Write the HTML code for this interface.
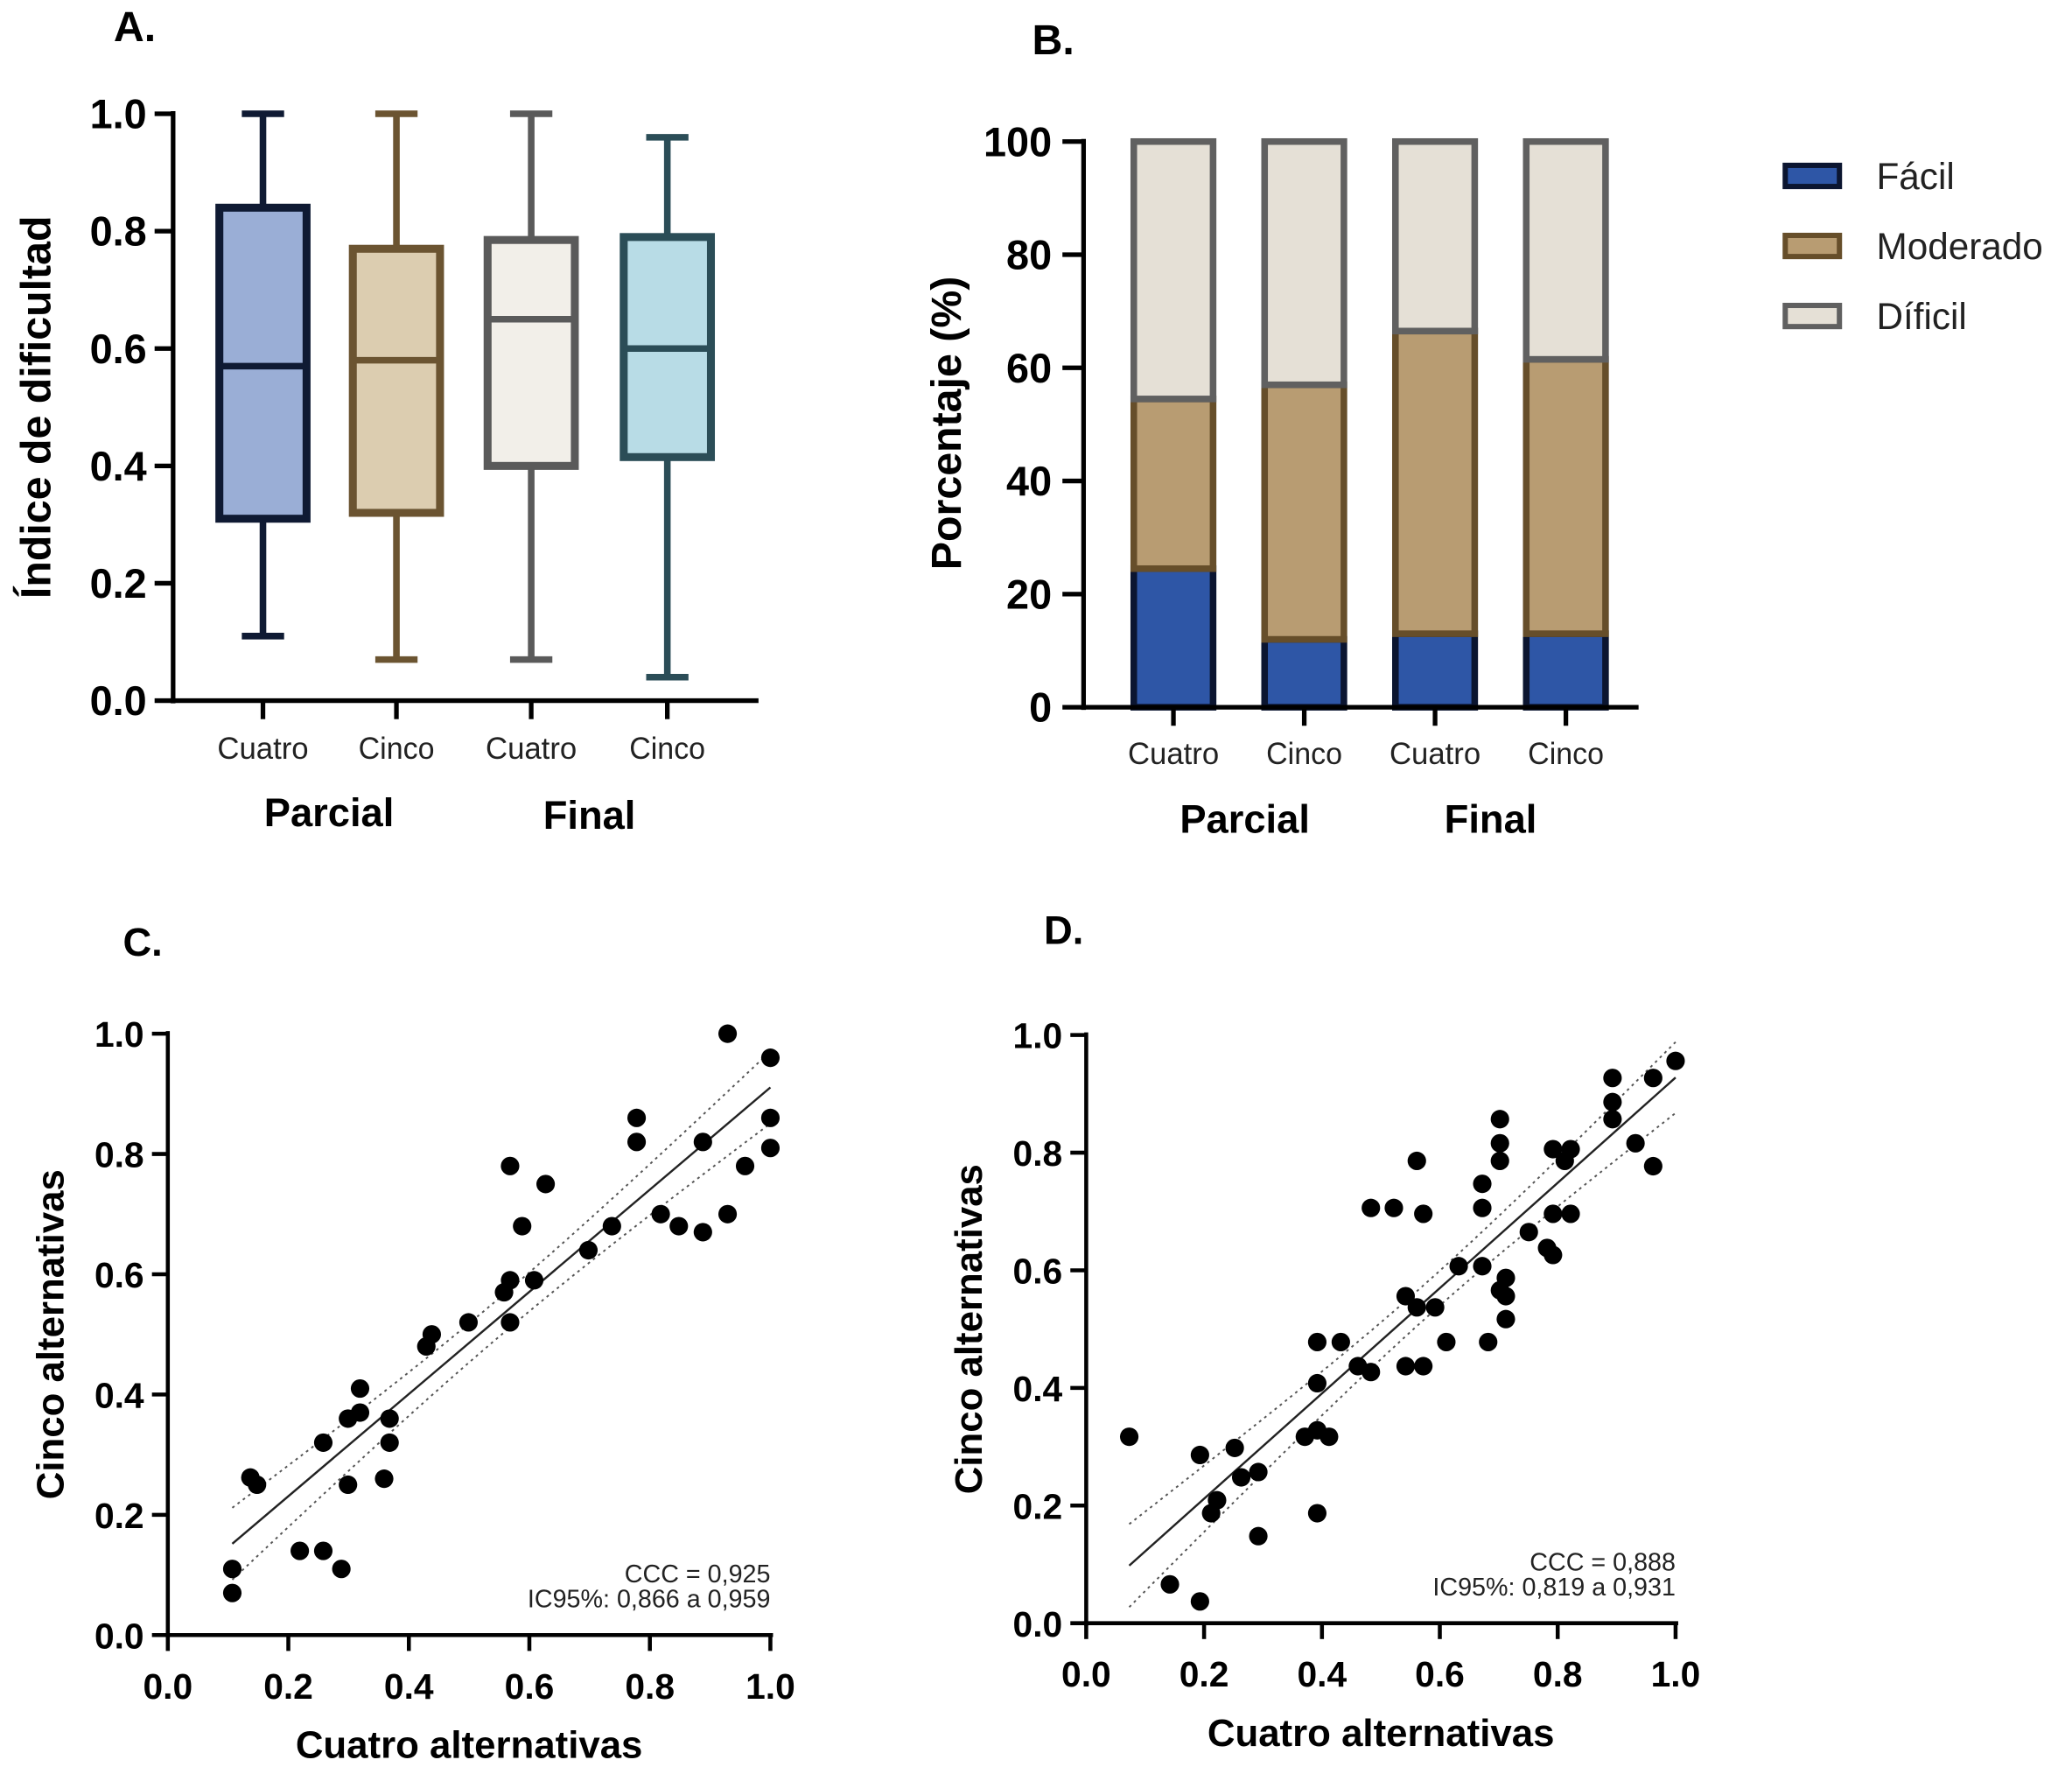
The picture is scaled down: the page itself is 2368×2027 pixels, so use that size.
<!DOCTYPE html>
<html><head><meta charset="utf-8">
<style>
html,body{margin:0;padding:0;background:#fff;}
svg{display:block;font-family:"Liberation Sans",Arial,sans-serif;}
</style></head>
<body>
<svg id="fig" width="2368" height="2027" viewBox="0 0 1568 1342" xmlns="http://www.w3.org/2000/svg">
<rect width="1568" height="1342" fill="#fff"/>
<g id="pa"></g>
<g id="pb"></g>
<g id="pc"></g>
<g id="pd"></g>
</svg>
<script>
// ---- Panel A data ----
const boxCategories = ["Cuatro","Cinco","Cuatro","Cinco"];
const boxMin = [0.11,0.07,0.07,0.04];
const boxQ1 = [0.31,0.32,0.40,0.415];
const boxMedian = [0.57,0.58,0.65,0.60];
const boxQ3 = [0.84,0.77,0.785,0.79];
const boxMax = [1.0,1.0,1.0,0.96];
const boxYTicks = ["0.0","0.2","0.4","0.6","0.8","1.0"];
// ---- Panel B data ----
const barCategories = ["Cuatro","Cinco","Cuatro","Cinco"];
const facilPct = [24.5,12,13,13];
const moderadoPct = [30,45,53.5,48.5];
const dificilPct = [45.5,43,33.5,38.5];
const barYTicks = ["0","20","40","60","80","100"];
const legendLabels = ["Fácil","Moderado","Díficil"];
// ---- Panel C data ----
const cX = [.107,.107,.137,.148,.219,.258,.288,.258,.299,.319,.319,.299,.359,.368,.368,.429,.438,.499,.558,.568,.568,.568,.588,.608,.627,.698,.737,.778,.778,.818,.848,.888,.888,.929,.929,.958,1.0,1.0,1.0];
const cY = [.11,.07,.262,.25,.14,.14,.11,.32,.36,.37,.41,.25,.26,.36,.32,.48,.50,.52,.57,.59,.52,.78,.68,.59,.75,.64,.68,.86,.82,.70,.68,.82,.67,1.0,.70,.78,.96,.86,.81];
// ---- Panel D data ----
const dX = [.073,.142,.193,.193,.212,.222,.252,.263,.292,.292,.371,.392,.412,.392,.392,.392,.432,.461,.483,.483,.522,.542,.542,.561,.561,.572,.572,.592,.611,.632,.672,.672,.672,.682,.702,.702,.702,.702,.712,.712,.712,.751,.782,.792,.792,.792,.812,.822,.822,.893,.893,.893,.932,.962,.962,1.0];
const dY = [.317,.066,.037,.286,.187,.209,.298,.248,.257,.148,.317,.328,.317,.187,.408,.478,.478,.437,.427,.706,.706,.556,.437,.537,.786,.437,.696,.537,.478,.607,.747,.706,.607,.478,.857,.816,.786,.566,.587,.556,.517,.665,.638,.626,.806,.696,.786,.806,.696,.927,.886,.857,.816,.927,.777,.956];
const scatterTicks = ["0.0","0.2","0.4","0.6","0.8","1.0"];

const NS="http://www.w3.org/2000/svg";
function mk(parent,tag,attrs,text){const e=document.createElementNS(NS,tag);for(const k in attrs)e.setAttribute(k,attrs[k]);if(text!==undefined)e.textContent=text;parent.appendChild(e);return e;}

// ===== Panel A =====
(function(){
const g=document.getElementById('pa');
const x0=131,y0=530,y1=86,xEnd=574;
const ys=v=>y0+(y1-y0)*v;
const cx=[199,300,402,505];
const fills=["#9aaed6","#dccdb0","#f2efe9","#b8dce6"];
const strokes=["#0f1a33","#6b5431","#5a5a5a","#2b4d57"];
let t=mk(g,'text',{x:86,y:31,'font-size':32,'font-weight':'bold'},'A.');


for(let i=0;i<boxCategories.length;i++){
 const b=mk(g,'g',{});
 
 
 const c=cx[i],w=66,s=strokes[i];
 mk(b,'line',{x1:c,x2:c,y1:ys(boxMax[i]),y2:ys(boxQ3[i]),stroke:s,'stroke-width':5});
 mk(b,'line',{x1:c,x2:c,y1:ys(boxQ1[i]),y2:ys(boxMin[i]),stroke:s,'stroke-width':5});
 mk(b,'line',{x1:c-16,x2:c+16,y1:ys(boxMax[i]),y2:ys(boxMax[i]),stroke:s,'stroke-width':5});
 mk(b,'line',{x1:c-16,x2:c+16,y1:ys(boxMin[i]),y2:ys(boxMin[i]),stroke:s,'stroke-width':5});
 mk(b,'rect',{x:c-w/2,y:ys(boxQ3[i]),width:w,height:ys(boxQ1[i])-ys(boxQ3[i]),fill:fills[i],stroke:s,'stroke-width':6});
 mk(b,'line',{x1:c-w/2,x2:c+w/2,y1:ys(boxMedian[i]),y2:ys(boxMedian[i]),stroke:s,'stroke-width':5});
 mk(g,'line',{x1:c,x2:c,y1:y0,y2:y0+14,stroke:'#000','stroke-width':3.5});
 t=mk(g,'text',{x:c,y:574,'font-size':23,'text-anchor':'middle',fill:'#222',textLength:boxCategories[i].length*11.5,lengthAdjust:'spacingAndGlyphs'},boxCategories[i]);
 
 
}
mk(g,'line',{x1:x0,x2:x0,y1:y1-2,y2:y0+2,stroke:'#000','stroke-width':3.5});
mk(g,'line',{x1:x0-2,x2:xEnd,y1:y0,y2:y0,stroke:'#000','stroke-width':3.5});
boxYTicks.forEach((lab,i)=>{const y=ys(i/5);
 mk(g,'line',{x1:x0-14,x2:x0,y1:y,y2:y,stroke:'#000','stroke-width':3.5});
 t=mk(g,'text',{x:x0-20,y:y+11,'font-size':31,'font-weight':'bold','text-anchor':'end'},lab);
 
 
});
t=mk(g,'text',{x:249,y:625,'font-size':30,'font-weight':'bold','text-anchor':'middle'},'Parcial');


t=mk(g,'text',{x:446,y:627,'font-size':30,'font-weight':'bold','text-anchor':'middle'},'Final');


t=mk(g,'text',{x:0,y:0,'font-size':32,'font-weight':'bold','text-anchor':'middle',transform:'translate(38,308) rotate(-90)'},'Índice de dificultad');


})();

// ===== Panel B =====
(function(){
const g=document.getElementById('pb');
const x0=820,y0=535,y1=107,xEnd=1240;
const ys=v=>y0+(y1-y0)*v/100;
const cx=[888,987,1086,1185],w=60;
const fills=["#2e56a6","#b89c72","#e5e0d6"];
const strokes=["#0b1530","#664e2a","#606060"];
let t=mk(g,'text',{x:797,y:41,'font-size':32,'font-weight':'bold','text-anchor':'middle'},'B.');


const series=[facilPct,moderadoPct,dificilPct];
for(let i=0;i<barCategories.length;i++){
 let base=0;
 series.forEach((arr,k)=>{
  const top=base+arr[i];
  const r=mk(g,'rect',{x:cx[i]-w/2,y:ys(top),width:w,height:ys(base)-ys(top),fill:fills[k],stroke:strokes[k],'stroke-width':5});
  
  
  base=top;
 });
 mk(g,'line',{x1:cx[i],x2:cx[i],y1:y0,y2:y0+14,stroke:'#000','stroke-width':3.5});
 t=mk(g,'text',{x:cx[i],y:578,'font-size':23,'text-anchor':'middle',fill:'#222',textLength:barCategories[i].length*11.5,lengthAdjust:'spacingAndGlyphs'},barCategories[i]);
 
 
}
mk(g,'line',{x1:x0,x2:x0,y1:y1-2,y2:y0+2,stroke:'#000','stroke-width':3.5});
mk(g,'line',{x1:x0-2,x2:xEnd,y1:y0,y2:y0,stroke:'#000','stroke-width':3.5});
barYTicks.forEach((lab,i)=>{const y=ys(i*20);
 mk(g,'line',{x1:x0-16,x2:x0,y1:y,y2:y,stroke:'#000','stroke-width':3.5});
 t=mk(g,'text',{x:x0-24,y:y+11,'font-size':31,'font-weight':'bold','text-anchor':'end'},lab);
 
 
});
t=mk(g,'text',{x:942,y:630,'font-size':30,'font-weight':'bold','text-anchor':'middle'},'Parcial');


t=mk(g,'text',{x:1128,y:630,'font-size':30,'font-weight':'bold','text-anchor':'middle'},'Final');


t=mk(g,'text',{x:0,y:0,'font-size':32,'font-weight':'bold','text-anchor':'middle',transform:'translate(727,320) rotate(-90)'},'Porcentaje (%)');


legendLabels.forEach((lab,k)=>{
 const y=133+k*53;
 const le=mk(g,'g',{});
 
 
 mk(le,'rect',{x:1351,y:y-8,width:41,height:16,fill:fills[k],stroke:strokes[k],'stroke-width':4});
 mk(le,'text',{x:1420,y:y+10,'font-size':28,fill:'#222'},lab);
});
})();

// ===== Scatter panels =====
function scatter(id,xs,ysd,ax,label,ccc,ic){
const g=document.getElementById(id);
const X=v=>ax.x0+(ax.x1-ax.x0)*v, Y=v=>ax.y0+(ax.y1-ax.y0)*v;
let t=mk(g,'text',{x:ax.lx,y:ax.ly,'font-size':30,'font-weight':'bold','text-anchor':'middle'},label);


const n=xs.length;let mx=0,my=0;xs.forEach((v,i)=>{mx+=v;my+=ysd[i];});mx/=n;my/=n;
let sxx=0,sxy=0;xs.forEach((v,i)=>{sxx+=(v-mx)**2;sxy+=(v-mx)*(ysd[i]-my);});
const b=sxy/sxx,a=my-b*mx;let sse=0;xs.forEach((v,i)=>{sse+=(ysd[i]-a-b*v)**2;});
const se=Math.sqrt(sse/(n-2)),tq=2.02;
const xmin=Math.min(...xs),xmax=Math.max(...xs);
const band=x=>tq*se*Math.sqrt(1/n+(x-mx)**2/sxx);
let l=mk(g,'line',{x1:X(xmin),y1:Y(a+b*xmin),x2:X(xmax),y2:Y(a+b*xmax),stroke:'#222','stroke-width':1.6});


[1,-1].forEach(sg=>{let pts=[];for(let k=0;k<=40;k++){const x=xmin+(xmax-xmin)*k/40;pts.push(X(x)+','+Y(a+b*x+sg*band(x)));}
 const p=mk(g,'polyline',{points:pts.join(' '),fill:'none',stroke:'#555','stroke-width':1.3,'stroke-dasharray':'2,3'});
 
 
});
xs.forEach((v,i)=>{const c=mk(g,'circle',{cx:X(v),cy:Y(ysd[i]),r:7,fill:'#000'});
 
 
});
mk(g,'line',{x1:ax.x0,x2:ax.x0,y1:ax.y1-2,y2:ax.y0+2,stroke:'#000','stroke-width':3});
mk(g,'line',{x1:ax.x0-2,x2:ax.x1+2,y1:ax.y0,y2:ax.y0,stroke:'#000','stroke-width':3});
scatterTicks.forEach((lab,i)=>{const v=i/5;
 mk(g,'line',{x1:ax.x0-12,x2:ax.x0,y1:Y(v),y2:Y(v),stroke:'#000','stroke-width':3});
 mk(g,'line',{x1:X(v),x2:X(v),y1:ax.y0,y2:ax.y0+12,stroke:'#000','stroke-width':3});
 t=mk(g,'text',{x:ax.x0-18,y:Y(v)+10,'font-size':27,'font-weight':'bold','text-anchor':'end'},lab);
 
 
 t=mk(g,'text',{x:X(v),y:ax.y0+48,'font-size':27,'font-weight':'bold','text-anchor':'middle'},lab);
 
 
});
t=mk(g,'text',{x:ax.x1,y:ax.y0-40,'font-size':19,'text-anchor':'end',fill:'#222'},ccc);


t=mk(g,'text',{x:ax.x1,y:ax.y0-21,'font-size':19,'text-anchor':'end',fill:'#222'},ic);


t=mk(g,'text',{x:(ax.x0+ax.x1)/2,y:ax.y0+93,'font-size':29,'font-weight':'bold','text-anchor':'middle'},'Cuatro alternativas');


t=mk(g,'text',{x:0,y:0,'font-size':29,'font-weight':'bold','text-anchor':'middle',transform:'translate('+ax.tx+','+((ax.y0+ax.y1)/2)+') rotate(-90)'},'Cinco alternativas');


}
scatter('pc',cX,cY,{x0:127,x1:583,y0:1237,y1:782,lx:108,ly:723,tx:48},'C.','CCC = 0,925','IC95%: 0,866 a 0,959');
scatter('pd',dX,dY,{x0:822,x1:1268,y0:1228,y1:783,lx:805,ly:714,tx:743},'D.','CCC = 0,888','IC95%: 0,819 a 0,931');
</script>
</body></html>
